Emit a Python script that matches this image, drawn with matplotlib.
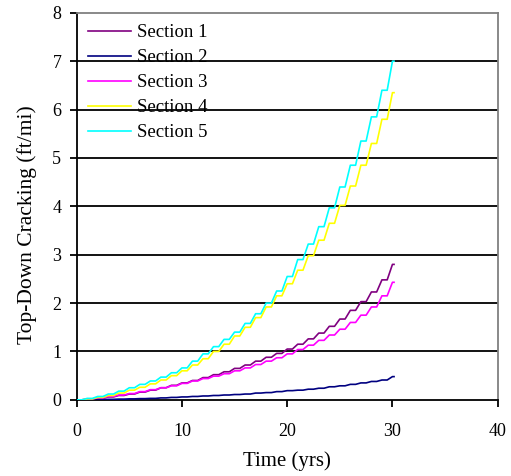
import numpy as np
import matplotlib
matplotlib.use("Agg")
import matplotlib.pyplot as plt

# Top-down cracking vs time, five pavement sections
# yearly values (ft/mi), years 0..30
years = list(range(0, 31))

section1 = [0, 0.01, 0.03, 0.06, 0.09, 0.12, 0.16, 0.20, 0.25, 0.30, 0.35,
            0.40, 0.46, 0.52, 0.58, 0.65, 0.72, 0.80, 0.88, 0.96, 1.05,
            1.15, 1.26, 1.38, 1.52, 1.67, 1.85, 2.03, 2.23, 2.48, 2.80]
section2 = [0, 0, 0.005, 0.01, 0.015, 0.02, 0.025, 0.03, 0.04, 0.05, 0.06,
            0.07, 0.08, 0.09, 0.10, 0.11, 0.12, 0.14, 0.15, 0.17, 0.19,
            0.20, 0.22, 0.24, 0.27, 0.29, 0.32, 0.35, 0.38, 0.41, 0.48]
section3 = [0, 0.02, 0.04, 0.07, 0.10, 0.13, 0.17, 0.21, 0.25, 0.29, 0.34,
            0.39, 0.44, 0.49, 0.54, 0.60, 0.66, 0.73, 0.80, 0.87, 0.95,
            1.04, 1.13, 1.23, 1.34, 1.46, 1.60, 1.75, 1.92, 2.15, 2.43]
section4 = [0, 0.02, 0.05, 0.09, 0.14, 0.20, 0.26, 0.33, 0.41, 0.50, 0.60,
            0.72, 0.85, 1.00, 1.15, 1.32, 1.50, 1.70, 1.92, 2.15, 2.40,
            2.68, 2.98, 3.30, 3.65, 4.02, 4.42, 4.85, 5.30, 5.80, 6.35]
section5 = [0, 0.03, 0.07, 0.12, 0.18, 0.25, 0.32, 0.39, 0.47, 0.56, 0.66,
            0.80, 0.95, 1.10, 1.25, 1.40, 1.58, 1.78, 2.00, 2.25, 2.55,
            2.90, 3.22, 3.58, 3.97, 4.40, 4.85, 5.35, 5.85, 6.40, 7.00]

labels = ['Section 1', 'Section 2', 'Section 3', 'Section 4', 'Section 5']
colors = ['#800080', '#000080', '#FF00FF', '#FFFF00', '#00FFFF']

plt.rcParams['font.family'] = ['Liberation Serif', 'DejaVu Serif']


def seasonal_steps(t, v):
    # each year: flat through winter, then a climb during summer
    xs, ys = [], []
    for i in range(len(t)):
        xs += [t[i], t[i] + 0.5]
        ys += [v[i], v[i]]
    xs = xs[:-1] + [t[-1] + 0.15]
    return xs, ys


fig, ax = plt.subplots(figsize=(5.11, 4.76), dpi=100)
fig.subplots_adjust(left=0.150, right=0.974, bottom=0.160, top=0.973)

for vals, lab, col in zip([section1, section2, section3, section4, section5], labels, colors):
    xs, ys = seasonal_steps(years, vals)
    ax.plot(xs, ys, color=col, lw=1.2, label=lab, zorder=3)

ax.set_xlim(0, 40)
ax.set_ylim(0, 8)
ax.set_xticks([0, 10, 20, 30, 40])
ax.set_yticks(range(0, 9))
for yv in range(1, 8):
    ax.axhline(yv, color='black', lw=1.3, zorder=1)

ax.spines['top'].set_color('#808080')
ax.spines['right'].set_color('#808080')
for s in ax.spines.values():
    s.set_linewidth(1.3)
ax.tick_params(axis='both', direction='out', length=5, width=1.3, labelsize=13, pad=6)
ax.tick_params(axis='x', pad=12)

ax.set_xlabel('Time (yrs)', fontsize=15, labelpad=8)
ax.set_ylabel('Top-Down Cracking (ft/mi)', fontsize=15.5)
ax.yaxis.set_label_coords(-0.094, 0.452)

leg = ax.legend(loc='upper left', frameon=False, fontsize=13.5, handlelength=2.3,
                handletextpad=0.3, labelspacing=0.42, borderaxespad=0.2,
                bbox_to_anchor=(0.0, 1.0))
leg.set_zorder(0)

plt.savefig('out.png', dpi=100)
